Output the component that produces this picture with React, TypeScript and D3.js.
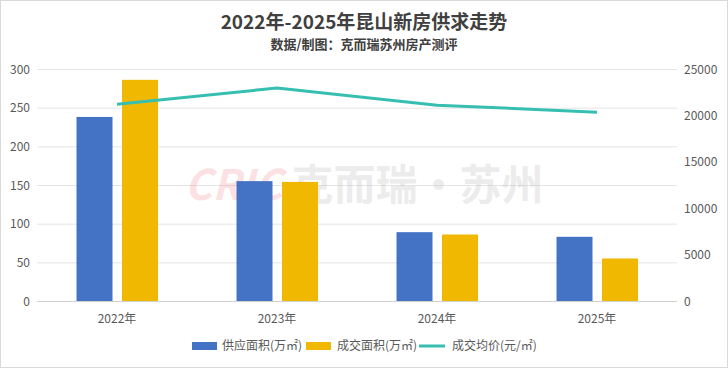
import React, { useEffect, useRef } from 'react';
import * as d3 from 'd3';

const years = ['2022年', '2023年', '2024年', '2025年'];
const supplyArea = [238, 155, 89, 83];
const dealArea = [286, 154, 86, 55];
const avgPrice = [21200, 22950, 21100, 20350];
const leftTicks = [0, 50, 100, 150, 200, 250, 300];
const rightTicks = [0, 5000, 10000, 15000, 20000, 25000];

const W = 728;
const H = 368;
const FONT = '"Noto Sans CJK SC", "Noto Sans", sans-serif';

export default function App() {
  const ref = useRef<SVGSVGElement>(null);

  useEffect(() => {
    const svg = d3.select(ref.current);
    svg.selectAll('*').remove();

    const left = 37, right = 677, top = 69, bottom = 301;

    const x = d3.scaleBand().domain(years).range([left, right]);
    const yL = d3.scaleLinear().domain([0, 300]).range([bottom, top]);
    const yR = d3.scaleLinear().domain([0, 25000]).range([bottom, top]);

    svg.append('rect')
      .attr('x', 0.5).attr('y', 0.5).attr('width', W - 1).attr('height', H - 1)
      .attr('fill', '#fff').attr('stroke', '#d9d9d9');

    // title
    svg.append('text')
      .attr('x', 364).attr('y', 29)
      .attr('text-anchor', 'middle')
      .attr('font-size', 19).attr('font-weight', 'bold')
      .attr('fill', '#404040')
      .text('2022年-2025年昆山新房供求走势');
    svg.append('text')
      .attr('x', 364).attr('y', 49)
      .attr('text-anchor', 'middle')
      .attr('font-size', 13).attr('font-weight', 'bold')
      .attr('fill', '#404040')
      .text('数据/制图：克而瑞苏州房产测评');

    // gridlines
    svg.append('g').selectAll('line')
      .data(leftTicks)
      .join('line')
      .attr('x1', left).attr('x2', right)
      .attr('y1', d => yL(d) + 0.5).attr('y2', d => yL(d) + 0.5)
      .attr('stroke', d => (d === 0 ? '#d0d0d0' : '#e4e4e4'))
      .attr('stroke-width', 1);

    // left ticks
    svg.append('g').selectAll('text')
      .data(leftTicks)
      .join('text')
      .attr('x', 30).attr('y', d => yL(d) + 4.5)
      .attr('text-anchor', 'end')
      .attr('font-size', 12).attr('fill', '#595959')
      .text(d => d);

    // right ticks
    svg.append('g').selectAll('text')
      .data(rightTicks)
      .join('text')
      .attr('x', 684).attr('y', d => yR(d) + 4.5)
      .attr('text-anchor', 'start')
      .attr('font-size', 12).attr('fill', '#595959')
      .text(d => d);

    // watermark
    const wm = svg.append('text')
      .attr('x', 364).attr('y', 200)
      .attr('text-anchor', 'middle')
      .attr('font-size', 42).attr('font-weight', 'bold');
    wm.append('tspan')
      .attr('font-style', 'italic')
      .attr('fill', '#f08a96').attr('fill-opacity', 0.25)
      .text('CRIC ');
    wm.append('tspan')
      .attr('fill', '#c8c8c8').attr('fill-opacity', 0.35)
      .text('克而瑞·苏州');

    const bw = 36;
    const c = (d: string) => (x(d) as number) + x.bandwidth() / 2;

    svg.append('g').selectAll('rect')
      .data(years)
      .join('rect')
      .attr('x', d => c(d) - 40.5)
      .attr('width', bw)
      .attr('y', (d, i) => yL(supplyArea[i]))
      .attr('height', (d, i) => bottom - yL(supplyArea[i]))
      .attr('fill', '#4472c4');

    svg.append('g').selectAll('rect')
      .data(years)
      .join('rect')
      .attr('x', d => c(d) + 5)
      .attr('width', bw)
      .attr('y', (d, i) => yL(dealArea[i]))
      .attr('height', (d, i) => bottom - yL(dealArea[i]))
      .attr('fill', '#f0b800');

    const line = d3.line<number>()
      .x((d, i) => c(years[i]))
      .y(d => yR(d));
    svg.append('path')
      .datum(avgPrice)
      .attr('d', line)
      .attr('fill', 'none')
      .attr('stroke', '#36bfb0')
      .attr('stroke-width', 3)
      .attr('stroke-linejoin', 'round');

    // x labels
    svg.append('g').selectAll('text')
      .data(years)
      .join('text')
      .attr('x', d => c(d)).attr('y', 323)
      .attr('text-anchor', 'middle')
      .attr('font-size', 12).attr('fill', '#595959')
      .text(d => d);

    // legend
    const lg = svg.append('g').attr('font-size', 12).attr('fill', '#595959');
    lg.append('rect').attr('x', 192).attr('y', 342).attr('width', 25).attr('height', 8).attr('fill', '#4472c4');
    lg.append('text').attr('x', 222).attr('y', 350).text('供应面积(万㎡)');
    lg.append('rect').attr('x', 306).attr('y', 342).attr('width', 25).attr('height', 8).attr('fill', '#f0b800');
    lg.append('text').attr('x', 337).attr('y', 350).text('成交面积(万㎡)');
    lg.append('line').attr('x1', 419).attr('x2', 445).attr('y1', 346).attr('y2', 346)
      .attr('stroke', '#36bfb0').attr('stroke-width', 3);
    lg.append('text').attr('x', 452).attr('y', 350).text('成交均价(元/㎡)');
  }, []);

  return (
    <svg
      ref={ref}
      width={W}
      height={H}
      style={{ position: 'fixed', left: 0, top: 0, fontFamily: FONT }}
    />
  );
}
